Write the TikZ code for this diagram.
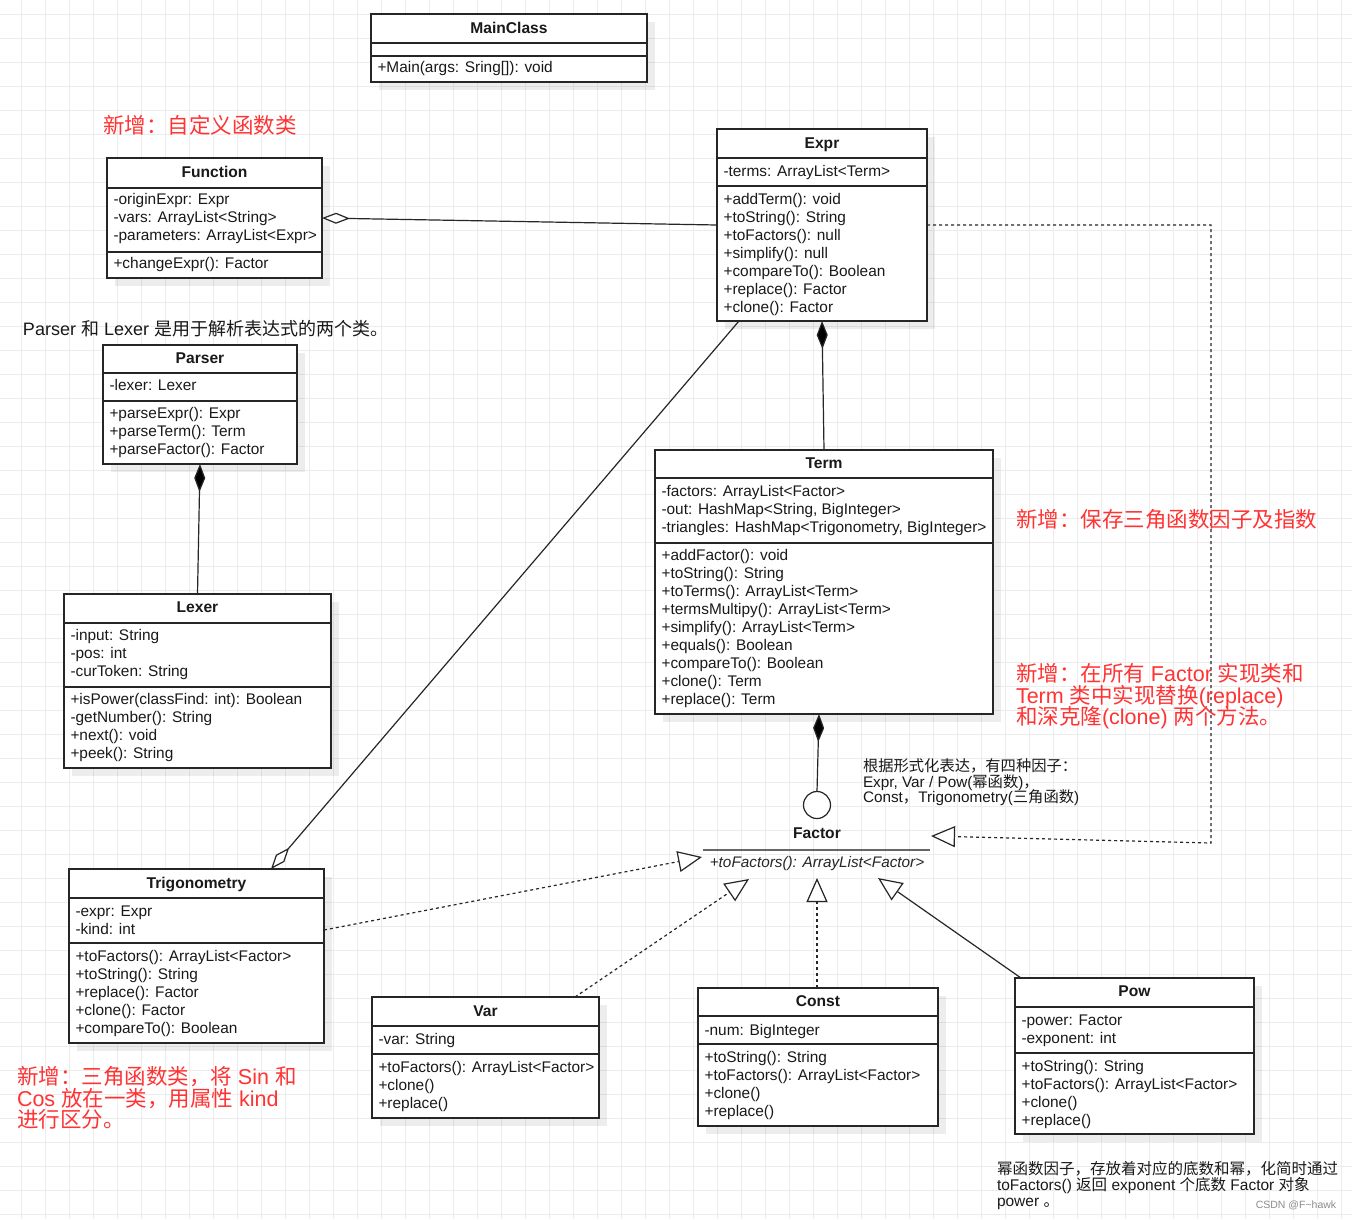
\documentclass[tikz,border=0pt]{standalone}
\usepackage{fontspec}
\setmainfont{Liberation Sans}
\newfontfamily\cjk{Noto Sans CJK SC}
\usetikzlibrary{arrows.meta,shadows}
\definecolor{notered}{RGB}{255,51,51}
\definecolor{gridc}{RGB}{236,236,236}
\newcommand\ls{\rule[-4.5pt]{0pt}{18pt}}
\newcommand\ubox[7]{%
  \node[classbox, minimum width={#4-#2}, minimum height={#5-#3}] (#1) at (#2,#3) {};
  \draw[sepline] (#2,#6) -- (#4,#6) (#2,#7) -- (#4,#7);
}
\begin{document}
\begin{tikzpicture}[x=1pt,y=-1pt,
  every node/.style={inner sep=0pt, outer sep=0pt},
  classbox/.style={draw=black!85, line width=1.3pt, fill=white, anchor=north west, rectangle,
     drop shadow={shadow xshift=8pt, shadow yshift=-8pt, fill=black, opacity=0.07}},
  sepline/.style={draw=black!85, line width=1.3pt},
  title/.style={font=\bfseries\fontsize{15.6}{18}\selectfont, anchor=base, text=black!90},
  memb/.style={font=\fontsize{15.4}{18}\selectfont, align=left, anchor=north west, text=black!90},
  conn/.style={draw=black!85, line width=1.2pt},
  dconn/.style={conn, dash pattern=on 3pt off 3pt},
  odiam/.tip={Diamond[fill=white, length=28pt, width=11pt, line width=1.2pt]},
  fdiam/.tip={Diamond[fill=black, length=28pt, width=11pt]},
  otri/.tip={Triangle[fill=white, length=24pt, width=21pt, line width=1.2pt]},
  rednote/.style={font=\fontsize{21.5}{21.5}\selectfont, text=notered, anchor=base west},
  blknote/.style={font=\fontsize{15.3}{15.5}\selectfont, text=black!90, anchor=base west},
]
% background and grid
\fill[white] (0,0) rectangle (1352,1219);
\useasboundingbox (0,0) rectangle (1352,1219);
\foreach \gx in {21.5,45.5,...,1352} \draw[gridc, line width=1pt] (\gx,0) -- (\gx,1219);
\foreach \gy in {14.3,38.3,...,1219} \draw[gridc, line width=1pt] (0,\gy) -- (1352,\gy);

% ---------- classes ----------
\ubox{main}{371}{14}{647}{82}{43}{56}
\node[title] (main-t) at (509,33.4) {MainClass};
\node[memb] (main-m) at (377.5,58.9) {\ls +Main(args: Sring[]): void};

\ubox{fn}{107}{158}{322}{278}{188}{252}
\node[title] (fn-t) at (214.5,177.4) {Function};
\node[memb] (fn-a) at (113.5,190.9) {\ls -originExpr: Expr\\\ls -vars: ArrayList<String>\\\ls -parameters: ArrayList<Expr>};
\node[memb] (fn-m) at (113.5,254.9) {\ls +changeExpr(): Factor};

\ubox{expr}{717}{129}{927}{321}{158}{186}
\node[title] (expr-t) at (822,148.4) {Expr};
\node[memb] (expr-a) at (723.5,162.9) {\ls -terms: ArrayList<Term>};
\node[memb] (expr-m) at (723.5,190.9) {\ls +addTerm(): void\\\ls +toString(): String\\\ls +toFactors(): null\\\ls +simplify(): null\\\ls +compareTo(): Boolean\\\ls +replace(): Factor\\\ls +clone(): Factor};

\ubox{parser}{103}{345}{297}{464}{373}{401}
\node[title] (parser-t) at (200,363.4) {Parser};
\node[memb] (parser-a) at (109.5,376.9) {\ls -lexer: Lexer};
\node[memb] (parser-m) at (109.5,404.9) {\ls +parseExpr(): Expr\\\ls +parseTerm(): Term\\\ls +parseFactor(): Factor};

\ubox{lexer}{64}{594}{331}{768}{623}{687}
\node[title] (lexer-t) at (197.5,612.4) {Lexer};
\node[memb] (lexer-a) at (70.5,626.9) {\ls -input: String\\\ls -pos: int\\\ls -curToken: String};
\node[memb] (lexer-m) at (70.5,690.9) {\ls +isPower(classFind: int): Boolean\\\ls -getNumber(): String\\\ls +next(): void\\\ls +peek(): String};

\ubox{term}{655}{450}{993}{714}{478}{543}
\node[title] (term-t) at (824,468.4) {Term};
\node[memb] (term-a) at (661.5,482.9) {\ls -factors: ArrayList<Factor>\\\ls -out: HashMap<String, BigInteger>\\\ls -triangles: HashMap<Trigonometry, BigInteger>};
\node[memb] (term-m) at (661.5,546.9) {\ls +addFactor(): void\\\ls +toString(): String\\\ls +toTerms(): ArrayList<Term>\\\ls +termsMultipy(): ArrayList<Term>\\\ls +simplify(): ArrayList<Term>\\\ls +equals(): Boolean\\\ls +compareTo(): Boolean\\\ls +clone(): Term\\\ls +replace(): Term};

\ubox{trig}{69}{869}{324}{1043}{898}{943}
\node[title] (trig-t) at (196.5,888.4) {Trigonometry};
\node[memb] (trig-a) at (75.5,902.9) {\ls -expr: Expr\\\ls -kind: int};
\node[memb] (trig-m) at (75.5,947.9) {\ls +toFactors(): ArrayList<Factor>\\\ls +toString(): String\\\ls +replace(): Factor\\\ls +clone(): Factor\\\ls +compareTo(): Boolean};

\ubox{var}{372}{997}{599}{1118}{1026}{1054}
\node[title] (var-t) at (485.5,1016.4) {Var};
\node[memb] (var-a) at (378.5,1030.9) {\ls -var: String};
\node[memb] (var-m) at (378.5,1058.9) {\ls +toFactors(): ArrayList<Factor>\\\ls +clone()\\\ls +replace()};

\ubox{const}{698}{988}{938}{1126}{1016}{1044}
\node[title] (const-t) at (818,1006.4) {Const};
\node[memb] (const-a) at (704.5,1021.9) {\ls -num: BigInteger};
\node[memb] (const-m) at (704.5,1048.9) {\ls +toString(): String\\\ls +toFactors(): ArrayList<Factor>\\\ls +clone()\\\ls +replace()};

\ubox{pow}{1015}{978}{1254}{1134}{1007}{1053}
\node[title] (pow-t) at (1134.5,996.4) {Pow};
\node[memb] (pow-a) at (1021.5,1011.9) {\ls -power: Factor\\\ls -exponent: int};
\node[memb] (pow-m) at (1021.5,1057.9) {\ls +toString(): String\\\ls +toFactors(): ArrayList<Factor>\\\ls +clone()\\\ls +replace()};

% ---------- Factor interface ----------
\node[circle, draw=black!85, line width=1.2pt, fill=white, minimum size=27pt] (iface) at (817,805) {};
\node[title] (factor) at (817,838.4) {Factor};
\draw[black!60, line width=1.3pt] (703,850) -- (930,850);
\node[font=\itshape\fontsize{15.3}{18}\selectfont, text=black!85, anchor=base] (factor-op) at (817,867.4) {+toFactors(): ArrayList<Factor>};
\coordinate (ftr) at (931,836);
\coordinate (ftl) at (702,857);
\coordinate (fvar) at (749,879);
\coordinate (fconst) at (817,878);
\coordinate (fpow) at (878,878);
\coordinate (r1) at (1211,225);
\coordinate (r2) at (1211,843);

% ---------- connectors ----------
\draw[conn, odiam-] (fn.east) -- (expr.west);
\draw[conn, fdiam-] (expr.south) -- (term.north);
\draw[conn, fdiam-] (parser.south) -- (lexer.north);
\draw[conn, -odiam] ([xshift=22pt]expr.south west) -- ([xshift=-53pt]trig.north east);
\draw[conn, fdiam-] ([xshift=-5pt]term.south) -- (iface.north);
\draw[dconn, -otri] (expr.east) -- (r1) -- (r2) -- (ftr);
\draw[dconn, -otri] ([yshift=26pt]trig.east) -- (ftl);
\draw[dconn, -otri] ([xshift=-24pt]var.north east) -- (fvar);
\draw[dconn, -otri] ([xshift=-1pt]const.north) -- (fconst);
\draw[conn, -otri] ([xshift=6pt]pow.north west) -- (fpow);

% ---------- notes ----------
\node[rednote] (n1) at (103,133) {{\cjk 新增：自定义函数类}};
\node[font=\fontsize{18}{18}\selectfont, text=black!90, anchor=base west] (n2) at (23,335.5) {Parser {\cjk 和} Lexer {\cjk 是用于解析表达式的两个类。}};
\node[rednote] (n3) at (1016,527) {{\cjk 新增：保存三角函数因子及指数}};
\node[rednote] (n4a) at (1016,681) {{\cjk 新增：在所有} Factor {\cjk 实现类和}};
\node[rednote] (n4b) at (1016,703) {Term {\cjk 类中实现替换}(replace)};
\node[rednote] (n4c) at (1016,724) {{\cjk 和深克隆}(clone) {\cjk 两个方法。}};
\node[rednote] (n5a) at (17,1084) {{\cjk 新增：三角函数类，将} Sin {\cjk 和}};
\node[rednote] (n5b) at (17,1106) {Cos {\cjk 放在一类，用属性} kind};
\node[rednote] (n5c) at (17,1127) {{\cjk 进行区分。}};
\node[blknote] (n6a) at (863,771.5) {{\cjk 根据形式化表达，有四种因子：}};
\node[blknote] (n6b) at (863,787.5) {Expr, Var / Pow({\cjk 幂函数}){\cjk ，}};
\node[blknote] (n6c) at (863,802.5) {Const{\cjk ，}Trigonometry({\cjk 三角函数})};
\node[blknote, font=\fontsize{15.5}{15.5}\selectfont] (n7a) at (997,1174.7) {{\cjk 幂函数因子，存放着对应的底数和幂，化简时通过}};
\node[blknote, font=\fontsize{15.5}{15.5}\selectfont] (n7b) at (997,1190.7) {toFactors() {\cjk 返回} exponent {\cjk 个底数} Factor {\cjk 对象}};
\node[blknote, font=\fontsize{15.5}{15.5}\selectfont] (n7c) at (997,1206.7) {power {\cjk 。}};
\node[font=\fontsize{10.5}{12}\selectfont, text=black!45] (n8) at (1296,1205) {CSDN @F\textasciitilde hawk};
\end{tikzpicture}
\end{document}
